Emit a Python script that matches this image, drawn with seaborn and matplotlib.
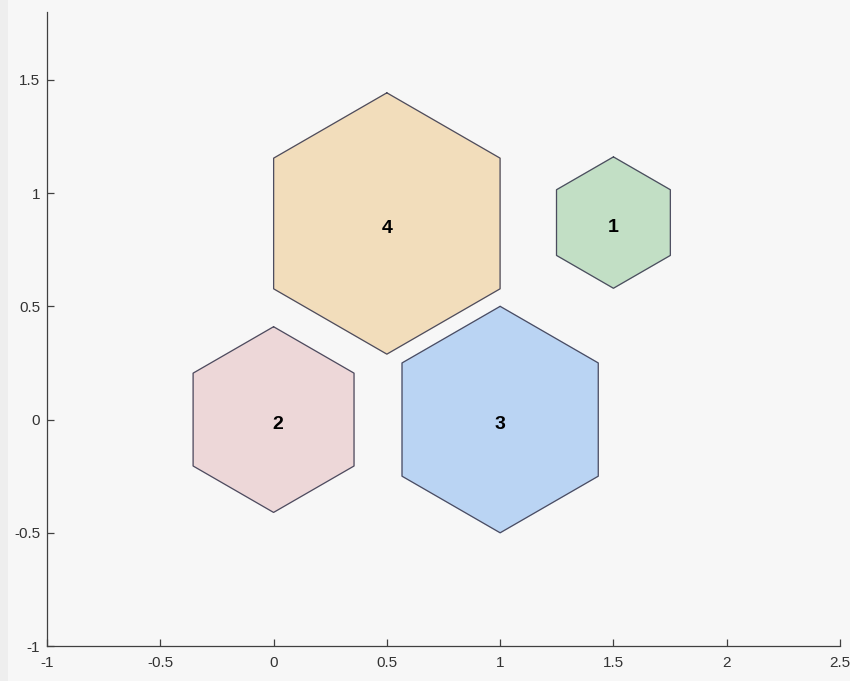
import numpy as np
import pandas as pd
import seaborn as sns
import matplotlib.pyplot as plt
from matplotlib.patches import Rectangle

# dados dos hexagonos
labels = ['1', '2', '3', '4']
cx = [1.5, 0.0, 1.0, 0.5]
cy = [0.87, 0.0, 0.0, 0.866]
raio = [0.29, 0.41, 0.5, 0.577]
cores = ['#c2dfc5', '#edd7d8', '#bad4f3', '#f2ddbb']

xticks = [-1, -0.5, 0, 0.5, 1, 1.5, 2, 2.5]
yticks = [-1, -0.5, 0, 0.5, 1, 1.5]

sns.set_theme(style='ticks')
plt.rcParams['font.family'] = ['Liberation Sans', 'DejaVu Sans']

# vertices (hexagono com ponta para cima)
ang = np.deg2rad(90 + 60 * np.arange(7))
rows = []
for lab, x0, y0, r in zip(labels, cx, cy, raio):
    for k, a in enumerate(ang):
        rows.append({'hex': lab, 'ordem': k, 'x': x0 + r * np.cos(a), 'y': y0 + r * np.sin(a)})
df = pd.DataFrame(rows)

fig = plt.figure(figsize=(8.5, 6.81), dpi=100, facecolor='#f7f7f7')
fig.patches.append(Rectangle((0, 0), 8 / 850, 1, transform=fig.transFigure,
                             facecolor='#eeeeee', edgecolor='none', zorder=-1))
ax = fig.add_axes([47 / 850, 35 / 681, 793 / 850, 634 / 681])
ax.set_facecolor('#f7f7f7')

for lab, cor in zip(labels, cores):
    d = df[df['hex'] == lab]
    ax.fill(d['x'], d['y'], color=cor, zorder=1)

sns.lineplot(data=df, x='x', y='y', units='hex', estimator=None, sort=False,
             color='#4b4b5f', linewidth=0.9, ax=ax, zorder=2)

for lab, x0, y0 in zip(labels, cx, cy):
    ax.text(x0 + 0.02 * (lab == '2'), y0 - 0.02, lab, ha='center', va='center', fontsize=14,
            fontweight='bold', color='black', zorder=3)

ax.set_xlim(-1, 2.5)
ax.set_ylim(-1, 1.8)
ax.set_xticks(xticks)
ax.set_xticklabels([f'{t:g}' for t in xticks])
ax.set_yticks(yticks)
ax.set_yticklabels([f'{t:g}' for t in yticks])
ax.set_xlabel('')
ax.set_ylabel('')
ax.tick_params(direction='in', length=5, width=0.9, color='#404040',
               labelsize=11, labelcolor='#333333', pad=5)
ax.tick_params(axis='x', pad=7)
for s in ['top', 'right']:
    ax.spines[s].set_visible(False)
for s in ['left', 'bottom']:
    ax.spines[s].set_color('#404040')
    ax.spines[s].set_linewidth(0.9)

fig.savefig('out.png', dpi=100, facecolor=fig.get_facecolor())
